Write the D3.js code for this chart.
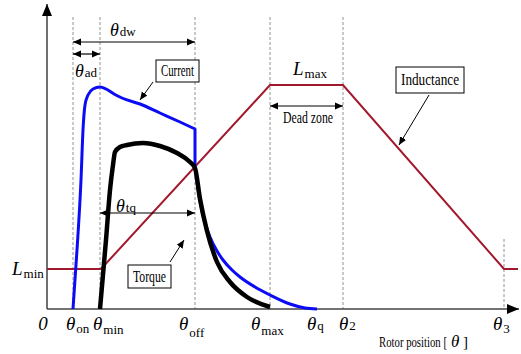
<!DOCTYPE html>
<html>
<head>
<meta charset="utf-8">
<script src="https://cdn.jsdelivr.net/npm/d3@7"></script>
<style>
  html, body { margin: 0; padding: 0; background: #fff; }
</style>
</head>
<body>
<div id="chart"></div>
<script>
// rotor angles (arbitrary units along the axis)
const angleNames = ['on', 'min', 'off', 'max', 'q', '2', '3']
const angleValues = [26, 53, 148, 223, 270, 296, 457]
const guideTops = [292, 292, 292, 292, null, 292, 70]

// inductance profile
const inductanceX = [0, 54, 223, 296, 457, 471]
const inductanceY = [40, 40, 224, 224, 40, 40]
const Lmin = 40
const Lmax = 224

// phase current: conduction part, then decay after turn-off
const currentOnX = [26, 30, 34, 36, 38, 41, 46, 53, 59, 67, 75, 93, 113, 133, 148]
const currentOnY = [0, 59, 129, 179, 204, 214, 220, 222, 220, 215, 211, 205, 196, 187, 180]
const currentOffX = [148, 153, 158, 163, 170, 176, 185, 193, 208, 223, 243, 258, 270]
const currentOffY = [141, 108, 86, 72, 58, 49, 39, 32, 22, 14, 5, 1, 0]

// torque
const torqueX = [53, 59, 63, 66, 68, 73, 80, 96, 113, 130, 143, 148, 153, 160, 170, 183, 200, 223]
const torqueY = [0, 69, 119, 144, 157, 162, 164, 166, 163, 156, 147, 141, 110, 78, 47, 27, 12, 2]

const W = 521, H = 354
const FONT = "'Liberation Serif', 'Times New Roman', 'DejaVu Serif', serif"
const x = d3.scaleLinear().domain([0, 471]).range([47, 518])
const y = d3.scaleLinear().domain([0, 300]).range([309, 9])

const svg = d3.select('#chart').append('svg')
  .attr('width', W).attr('height', H)
  .attr('font-family', FONT)
  .style('font-family', FONT)
  .style('display', 'block')

const defs = svg.append('defs')
defs.append('marker')
  .attr('id', 'arr')
  .attr('markerUnits', 'userSpaceOnUse')
  .attr('markerWidth', 9).attr('markerHeight', 8)
  .attr('refX', 8).attr('refY', 4)
  .attr('orient', 'auto-start-reverse')
  .append('path').attr('d', 'M0,0.5 L8,4 L0,7.5 Z').attr('fill', '#000')
defs.append('marker')
  .attr('id', 'axarr')
  .attr('markerUnits', 'userSpaceOnUse')
  .attr('markerWidth', 14).attr('markerHeight', 12)
  .attr('refX', 12).attr('refY', 5)
  .attr('orient', 'auto')
  .append('path').attr('d', 'M0,0 L12,5 L0,10 Z').attr('fill', '#000')

// dashed guides
angleValues.forEach((a, i) => {
  if (guideTops[i] == null) return
  svg.append('line')
    .attr('x1', x(a)).attr('x2', x(a))
    .attr('y1', y(guideTops[i])).attr('y2', y(0))
    .attr('stroke', '#777').attr('stroke-width', 0.8)
    .attr('stroke-dasharray', '3,2')
})

// axes
svg.append('line')
  .attr('x1', x(0)).attr('x2', x(0))
  .attr('y1', y(0)).attr('y2', 4)
  .attr('stroke', '#222').attr('stroke-width', 1.3)
  .attr('marker-end', 'url(#axarr)')
svg.append('line')
  .attr('x1', x(0)).attr('x2', 519)
  .attr('y1', y(0)).attr('y2', y(0))
  .attr('stroke', '#444').attr('stroke-width', 1.6)
  .attr('marker-end', 'url(#axarr)')

const zip = (a, b) => a.map((v, i) => [v, b[i]])
const straight = d3.line().x(d => x(d[0])).y(d => y(d[1]))
const smooth = d3.line().x(d => x(d[0])).y(d => y(d[1])).curve(d3.curveMonotoneX)

svg.append('path')
  .attr('d', straight(zip(inductanceX, inductanceY)))
  .attr('fill', 'none').attr('stroke', '#a3182c').attr('stroke-width', 2)

svg.append('path')
  .attr('d', smooth(zip(currentOnX, currentOnY)) +
    smooth(zip(currentOffX, currentOffY)).replace(/^M/, 'L'))
  .attr('fill', 'none').attr('stroke', '#0b0bf5').attr('stroke-width', 3)
  .attr('stroke-linejoin', 'round')

svg.append('path')
  .attr('d', smooth(zip(torqueX, torqueY)))
  .attr('fill', 'none').attr('stroke', '#000').attr('stroke-width', 4.5)

// axis labels
const labelDx = [-7, -7, -16, -19, -10, -4, -11]
const subDy = [3, 4, 7, 5, 0, 0, 3]
svg.append('text')
  .attr('x', 43).attr('y', 330)
  .attr('text-anchor', 'middle')
  .style('font-size', '19px').style('font-style', 'italic')
  .text('0')
angleNames.forEach((n, i) => {
  const t = svg.append('text')
    .attr('x', x(angleValues[i]) + labelDx[i]).attr('y', 330)
  t.append('tspan').style('font-size', '19px').style('font-style', 'italic').text('θ')
  t.append('tspan').attr('dy', subDy[i]).attr('dx', 1).style('font-size', '13px').text(n)
})
svg.append('text').attr('x', 379).attr('y', 347)
  .attr('textLength', 68).attr('lengthAdjust', 'spacingAndGlyphs')
  .style('font-size', '15px')
  .text('Rotor position [')
svg.append('text').attr('x', 451).attr('y', 347)
  .style('font-size', '17px').style('font-style', 'italic')
  .text('θ')
svg.append('text').attr('x', 463).attr('y', 347)
  .style('font-size', '15px')
  .text(']')

// L labels
function Llabel(xp, yp, sub) {
  const t = svg.append('text').attr('x', xp).attr('y', yp)
  t.append('tspan').style('font-size', '19px').style('font-style', 'italic').text('L')
  t.append('tspan').attr('dx', 1).attr('dy', 3).style('font-size', '13px').text(sub)
}
Llabel(12, y(Lmin) + 6, 'min')
Llabel(x(246), y(Lmax) - 10, 'max')

// span arrows
function span(a, b, level) {
  svg.append('line')
    .attr('x1', x(a)).attr('x2', x(b))
    .attr('y1', y(level)).attr('y2', y(level))
    .attr('stroke', '#000').attr('stroke-width', 1.2)
    .attr('marker-start', 'url(#arr)').attr('marker-end', 'url(#arr)')
}
span(angleValues[0], angleValues[2], 267)
span(angleValues[0], angleValues[1], 255)
span(angleValues[1], angleValues[2], 96)
span(angleValues[3], angleValues[5], 203)

function thetaSub(xp, yp, sub) {
  const t = svg.append('text').attr('x', xp).attr('y', yp)
  t.append('tspan').style('font-size', '18px').style('font-style', 'italic').text('θ')
  t.append('tspan').attr('dx', 1).style('font-size', '13px').text(sub)
}
thetaSub(x(63), y(273), 'dw')
thetaSub(x(28), y(232), 'ad')
thetaSub(x(69), y(97), 'tq')

svg.append('text')
  .attr('x', x(236)).attr('y', y(186))
  .attr('textLength', 50).attr('lengthAdjust', 'spacingAndGlyphs')
  .style('font-size', '16px')
  .text('Dead zone')

// callout boxes
function callout(label, x0, x1, yTop, yBot, from, to) {
  svg.append('rect')
    .attr('x', x(x0)).attr('y', y(yTop))
    .attr('width', x(x1) - x(x0)).attr('height', y(yBot) - y(yTop))
    .attr('fill', '#fff').attr('stroke', '#000').attr('stroke-width', 1)
  svg.append('text')
    .attr('x', x(x0) + 5).attr('y', (y(yTop) + y(yBot)) / 2 + 5)
    .attr('textLength', x(x1) - x(x0) - 10).attr('lengthAdjust', 'spacingAndGlyphs')
    .style('font-size', '16px')
    .text(label)
  svg.append('line')
    .attr('x1', x(from[0])).attr('y1', y(from[1]))
    .attr('x2', x(to[0])).attr('y2', y(to[1]))
    .attr('stroke', '#000').attr('stroke-width', 1)
    .attr('marker-end', 'url(#arr)')
}
callout('Current', 109, 152, 249, 227, [106, 227], [93, 209])
callout('Inductance', 349, 417, 242, 216, [382, 214], [352, 164])
callout('Torque', 81, 124, 44, 21, [123, 47], [137, 69])
</script>
</body>
</html>
